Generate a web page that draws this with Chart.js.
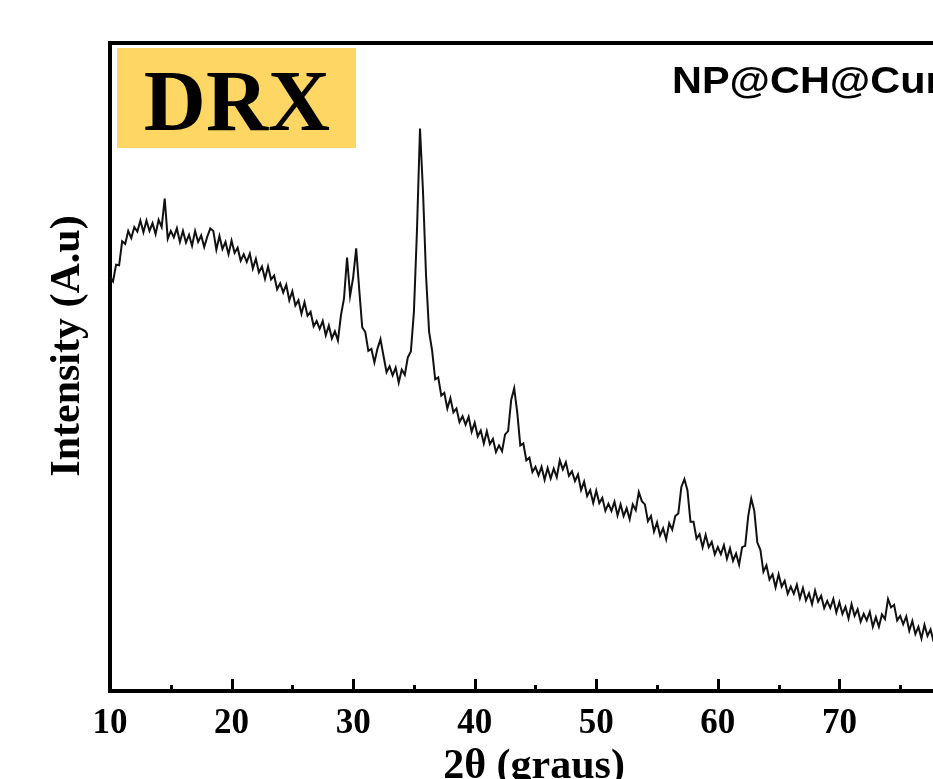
<!DOCTYPE html>
<html>
<head>
<meta charset="utf-8">
<title>DRX</title>
<script src="https://cdn.jsdelivr.net/npm/chart.js@4/dist/chart.umd.min.js"></script>
<style>
  html, body { margin: 0; padding: 0; background: #fff; overflow: hidden; }
  canvas { display: block; }
</style>
</head>
<body>
<canvas id="xrd" width="933" height="779"></canvas>
<script>
// 2theta (degrees), every 0.25 deg
const angles = [
  10, 10.25, 10.5, 10.75, 11, 11.25, 11.5, 11.75, 12, 12.25, 12.5, 12.75,
  13, 13.25, 13.5, 13.75, 14, 14.25, 14.5, 14.75, 15, 15.25, 15.5, 15.75,
  16, 16.25, 16.5, 16.75, 17, 17.25, 17.5, 17.75, 18, 18.25, 18.5, 18.75,
  19, 19.25, 19.5, 19.75, 20, 20.25, 20.5, 20.75, 21, 21.25, 21.5, 21.75,
  22, 22.25, 22.5, 22.75, 23, 23.25, 23.5, 23.75, 24, 24.25, 24.5, 24.75,
  25, 25.25, 25.5, 25.75, 26, 26.25, 26.5, 26.75, 27, 27.25, 27.5, 27.75,
  28, 28.25, 28.5, 28.75, 29, 29.25, 29.5, 29.75, 30, 30.25, 30.5, 30.75,
  31, 31.25, 31.5, 31.75, 32, 32.25, 32.5, 32.75, 33, 33.25, 33.5, 33.75,
  34, 34.25, 34.5, 34.75, 35, 35.25, 35.5, 35.75, 36, 36.25, 36.5, 36.75,
  37, 37.25, 37.5, 37.75, 38, 38.25, 38.5, 38.75, 39, 39.25, 39.5, 39.75,
  40, 40.25, 40.5, 40.75, 41, 41.25, 41.5, 41.75, 42, 42.25, 42.5, 42.75,
  43, 43.25, 43.5, 43.75, 44, 44.25, 44.5, 44.75, 45, 45.25, 45.5, 45.75,
  46, 46.25, 46.5, 46.75, 47, 47.25, 47.5, 47.75, 48, 48.25, 48.5, 48.75,
  49, 49.25, 49.5, 49.75, 50, 50.25, 50.5, 50.75, 51, 51.25, 51.5, 51.75,
  52, 52.25, 52.5, 52.75, 53, 53.25, 53.5, 53.75, 54, 54.25, 54.5, 54.75,
  55, 55.25, 55.5, 55.75, 56, 56.25, 56.5, 56.75, 57, 57.25, 57.5, 57.75,
  58, 58.25, 58.5, 58.75, 59, 59.25, 59.5, 59.75, 60, 60.25, 60.5, 60.75,
  61, 61.25, 61.5, 61.75, 62, 62.25, 62.5, 62.75, 63, 63.25, 63.5, 63.75,
  64, 64.25, 64.5, 64.75, 65, 65.25, 65.5, 65.75, 66, 66.25, 66.5, 66.75,
  67, 67.25, 67.5, 67.75, 68, 68.25, 68.5, 68.75, 69, 69.25, 69.5, 69.75,
  70, 70.25, 70.5, 70.75, 71, 71.25, 71.5, 71.75, 72, 72.25, 72.5, 72.75,
  73, 73.25, 73.5, 73.75, 74, 74.25, 74.5, 74.75, 75, 75.25, 75.5, 75.75,
  76, 76.25, 76.5, 76.75, 77, 77.25, 77.5, 77.75, 78
];

// intensity (arbitrary units, 0 = bottom of frame, 100 = top)
const intensity = [
  63.9, 63.2, 65.8, 65.7, 69.4, 69.0, 71.0, 69.9, 71.6, 70.9, 72.6, 70.8,
  72.6, 71.0, 72.2, 70.5, 72.7, 71.6, 76.0, 69.8, 71.0, 70.0, 71.4, 69.3,
  71.0, 69.2, 70.4, 68.7, 71.0, 69.3, 70.3, 68.5, 70.1, 71.4, 71.0, 68.1,
  70.2, 68.2, 69.3, 67.4, 69.5, 67.6, 68.4, 66.4, 67.4, 66.2, 67.5, 65.2,
  66.7, 64.6, 65.5, 63.6, 65.5, 63.5, 64.1, 62.0, 62.9, 61.5, 62.7, 60.3,
  61.7, 59.5, 60.3, 58.2, 60.0, 57.9, 58.5, 56.3, 57.1, 55.9, 57.1, 54.9,
  56.4, 54.4, 55.5, 54.1, 58.0, 60.6, 66.9, 61.0, 63.8, 68.3, 62.0, 56.1,
  55.4, 52.5, 52.8, 50.7, 52.8, 54.3, 51.7, 49.2, 50.1, 48.7, 49.9, 47.6,
  49.6, 48.8, 51.5, 52.4, 58.5, 71.0, 86.8, 77.0, 64.0, 55.4, 52.5, 48.1,
  48.4, 45.6, 46.0, 43.6, 45.2, 43.0, 43.6, 41.5, 42.4, 41.1, 42.3, 40.0,
  41.4, 39.3, 40.2, 38.2, 40.1, 38.1, 38.9, 36.9, 37.9, 37.0, 39.6, 40.1,
  44.9, 46.7, 43.0, 37.9, 38.2, 35.6, 36.0, 33.8, 34.6, 33.3, 34.6, 32.6,
  34.4, 32.8, 34.3, 33.0, 35.6, 34.2, 35.3, 33.2, 33.9, 32.4, 33.4, 31.0,
  32.3, 30.1, 31.0, 29.0, 30.9, 29.0, 29.8, 27.8, 28.9, 27.8, 29.2, 27.1,
  28.8, 27.0, 28.2, 26.5, 28.8, 27.9, 30.7, 29.3, 28.8, 26.2, 27.0, 24.6,
  26.0, 24.0, 25.1, 23.4, 25.9, 24.9, 27.0, 27.4, 31.5, 32.7, 31.0, 26.1,
  26.1, 23.5, 24.2, 22.2, 24.1, 22.2, 23.0, 21.1, 22.2, 21.1, 22.5, 20.4,
  22.0, 20.1, 21.2, 19.5, 22.2, 22.4, 27.0, 29.7, 27.8, 22.9, 21.8, 18.4,
  19.4, 17.2, 18.0, 16.0, 18.0, 16.1, 17.0, 15.0, 16.1, 15.0, 16.4, 14.3,
  15.9, 14.0, 15.1, 13.4, 15.5, 13.8, 14.7, 12.8, 13.9, 12.8, 14.2, 12.1,
  13.7, 11.9, 13.0, 11.2, 13.4, 11.6, 12.6, 10.7, 11.9, 10.9, 12.2, 9.9,
  11.4, 9.9, 11.8, 11.1, 14.2, 12.9, 13.3, 10.9, 11.6, 10.3, 11.5, 9.3,
  10.8, 8.8, 9.9, 8.1, 10.2, 8.5, 9.5, 7.6, 8.7
];

const majorTicks = [10, 20, 30, 40, 50, 60, 70];
const minorTicks = [15, 25, 35, 45, 55, 65, 75];

const SERIF = '"Liberation Serif", "Times New Roman", serif';
const SANS = '"Liberation Sans", Arial, sans-serif';

const decor = {
  id: "decor",
  afterDraw(chart) {
    const { ctx, chartArea: a, scales: { x } } = chart;
    ctx.save();

    // top frame line
    ctx.strokeStyle = "#000";
    ctx.lineWidth = 4;
    ctx.beginPath();
    ctx.moveTo(a.left - 2, a.top);
    ctx.lineTo(a.right, a.top);
    ctx.stroke();

    // inward tick marks
    ctx.lineWidth = 3;
    for (const v of majorTicks) {
      const px = Math.round(x.getPixelForValue(v)) + 0.5;
      ctx.beginPath();
      ctx.moveTo(px, a.bottom);
      ctx.lineTo(px, a.bottom - 12);
      ctx.stroke();
    }
    for (const v of minorTicks) {
      const px = Math.round(x.getPixelForValue(v)) + 0.5;
      ctx.beginPath();
      ctx.moveTo(px, a.bottom);
      ctx.lineTo(px, a.bottom - 6);
      ctx.stroke();
    }

    // DRX badge
    ctx.fillStyle = "#fdd663";
    ctx.fillRect(117, 48, 239, 100);
    ctx.fillStyle = "#000";
    ctx.textAlign = "center";
    ctx.textBaseline = "alphabetic";
    ctx.font = `bold 86px ${SERIF}`;
    ctx.fillText("DRX", 237, 130);

    // sample label (cut by the right edge, as in the picture)
    ctx.save();
    ctx.translate(672, 93);
    ctx.scale(1.12, 1);
    ctx.textAlign = "left";
    ctx.font = `bold 37px ${SANS}`;
    ctx.fillText("NP@CH@Curcumina", 0, 0);
    ctx.restore();

    // axis titles
    ctx.font = `bold 42px ${SERIF}`;
    ctx.textAlign = "center";
    ctx.fillText("2θ (graus)", 534, 778);

    ctx.save();
    ctx.translate(79, 346);
    ctx.rotate(-Math.PI / 2);
    ctx.fillText("Intensity (A.u)", 0, 0);
    ctx.restore();

    ctx.restore();
  }
};

const points = angles.map((a, i) => ({ x: a, y: intensity[i] }));

new Chart(document.getElementById("xrd"), {
  type: "line",
  data: {
    datasets: [{
      data: points,
      borderColor: "#111",
      borderWidth: 2,
      pointRadius: 0,
      tension: 0,
      fill: false
    }]
  },
  options: {
    responsive: false,
    animation: false,
    devicePixelRatio: 1,
    layout: { padding: { top: 43, right: 0, bottom: 0, left: 0 } },
    plugins: { legend: { display: false }, tooltip: { enabled: false } },
    scales: {
      x: {
        type: "linear",
        min: 10,
        max: 77.7,
        grid: { display: false, drawTicks: false },
        border: { display: true, width: 4, color: "#000" },
        afterBuildTicks: (s) => {
          s.ticks = majorTicks.concat(minorTicks).sort((p, q) => p - q).map((v) => ({ value: v }));
        },
        afterFit: (s) => { s.height = 88; },
        ticks: {
          autoSkip: false,
          maxRotation: 0,
          padding: 12,
          color: "#000",
          font: { family: SERIF, size: 35, weight: "bold" },
          callback: (v) => (majorTicks.includes(v) ? String(v) : "")
        }
      },
      y: {
        min: 0,
        max: 100,
        grid: { display: false, drawTicks: false },
        border: { display: true, width: 4, color: "#000" },
        ticks: { display: false },
        afterFit: (s) => { s.width = 110; }
      }
    }
  },
  plugins: [decor]
});
</script>
</body>
</html>
